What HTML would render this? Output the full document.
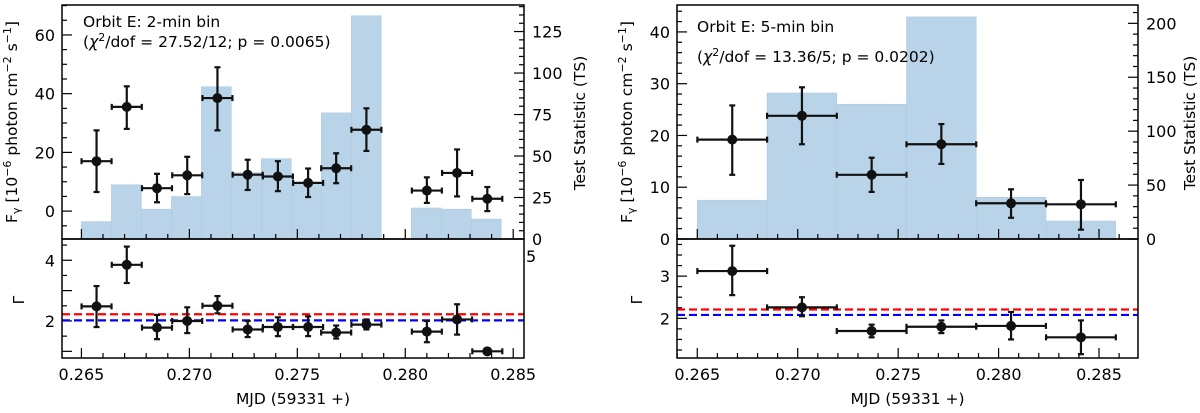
<!DOCTYPE html>
<html><head><meta charset="utf-8"><style>
html,body{margin:0;padding:0;background:#fff}
svg{display:block;font-family:"DejaVu Sans","Liberation Sans",sans-serif}
</style></head><body>
<svg id="c" width="1200" height="413" viewBox="0 0 1200 413"></svg>
<script>
// ---------- Left panel data (2-min bins) ----------
const L_binEdges0 = 0.2650, L_binW = 0.0013889;
const L_ts = [10.5, 32.7, 18, 25.6, 91.8, 40, 48.4, 34.5, 76, 134.5, 0, 18.7, 18, 12];
const L_x = [0.2657, 0.2671, 0.2685, 0.2699, 0.2713, 0.2727, 0.2741, 0.2755, 0.2768, 0.2782, 0.2810, 0.2824, 0.2838];
const L_flux = [17, 35.5, 7.8, 12.2, 38.5, 12.4, 11.8, 9.6, 14.6, 27.7, 7, 13, 4.2];
const L_fluxHi = [27.5, 42.5, 12.7, 18.5, 49, 17.5, 17, 14.5, 19.7, 35, 11.5, 21, 8.2];
const L_fluxLo = [6.5, 28, 3, 5.8, 27.5, 7.2, 6.8, 4.8, 9.5, 20.5, 2.8, 5, 0];
const L_gam = [2.48, 3.85, 1.78, 2.0, 2.5, 1.72, 1.8, 1.8, 1.62, 1.88, 1.65, 2.05, 1.0];
const L_gamHi = [3.15, 4.45, 2.2, 2.45, 2.82, 2.0, 2.12, 2.15, 1.85, 2.05, 2.0, 2.55, 1.05];
const L_gamLo = [1.8, 3.25, 1.4, 1.6, 2.25, 1.47, 1.5, 1.5, 1.42, 1.72, 1.3, 1.55, 0.95];
// ---------- Right panel data (5-min bins) ----------
const R_binEdges0 = 0.2650, R_binW = 0.0034722;
const R_ts = [36, 135.4, 125, 206, 38.7, 16.7];
const R_x = [0.26674, 0.27021, 0.27368, 0.27715, 0.28062, 0.28410];
const R_flux = [19.2, 23.8, 12.4, 18.3, 6.9, 6.7];
const R_fluxHi = [25.8, 29.3, 15.7, 22.2, 9.6, 11.4];
const R_fluxLo = [12.4, 18.3, 9.1, 14.5, 4.1, 1.8];
const R_gam = [3.12, 2.26, 1.7, 1.8, 1.82, 1.55];
const R_gamHi = [3.72, 2.5, 1.85, 1.95, 2.15, 1.95];
const R_gamLo = [2.55, 2.05, 1.55, 1.65, 1.5, 1.15];
const xTicks = [0.265, 0.270, 0.275, 0.280, 0.285];

const NS = "http://www.w3.org/2000/svg";
const svg = document.getElementById('c');
const TF = 16, LF = 15.5;
function mk(tag, attrs, parent, name, inter){
  const e = document.createElementNS(NS, tag);
  for (const k in attrs) e.setAttribute(k, attrs[k]);
  
  
  (parent || svg).appendChild(e);
  return e;
}
function lin(d0,d1,r0,r1){return v=>r0+(v-d0)/(d1-d0)*(r1-r0);}

function panel(o){
  const g = mk('g',{},svg,o.name,false);
  const X = lin(o.xd[0],o.xd[1],o.x0,o.x1);
  const YF = lin(o.fd[0],o.fd[1],o.yB,o.yT);
  const YT = lin(o.td[0],o.td[1],o.yB,o.yT);
  const YG = lin(o.gd[0],o.gd[1],o.y2,o.yB);
  o.ts.forEach((t,i)=>{
    if(t<=0) return;
    const a = X(o.e0+i*o.bw), b = X(o.e0+(i+1)*o.bw);
    mk('rect',{x:a,y:YT(t),width:b-a,height:o.yB-YT(t),fill:'#b9d4e8',stroke:'#a9c8e0','stroke-width':0.5},g,'ts-bar',false);
  });
  const tk = mk('g',{stroke:'#000','stroke-width':1.2},g,'ticks',false);
  for(let v=o.xd[0]-o.xd[0]%0.001+0.001; v<o.xd[1]; v+=0.001){
    const vv=Math.round(v*1000)/1000, maj=Math.abs(vv*200-Math.round(vv*200))<1e-6, L=maj?10:5;
    [o.yB,o.y2].forEach(yb=>mk('line',{x1:X(vv),x2:X(vv),y1:yb,y2:yb-L},tk,'x-tick',false));
  }
  for(let v=Math.ceil(o.fd[0]/o.fm)*o.fm; v<=o.fd[1]; v+=o.fm){
    const maj=Math.abs(v%o.fM)<1e-6, L=maj?10:5;
    mk('line',{x1:o.x0,x2:o.x0+L,y1:YF(v),y2:YF(v)},tk,'flux-tick',false);
    if(maj) mk('text',{x:o.x0-7,y:YF(v)+6,'text-anchor':'end','font-size':TF,fill:'#000',stroke:'none'},g,'flux-tick-label',false).textContent=v;
  }
  for(let v=0; v<=o.td[1]; v+=o.tm){
    const maj=v%o.tM===0, L=maj?10:5;
    mk('line',{x1:o.x1,x2:o.x1-L,y1:YT(v),y2:YT(v)},tk,'ts-tick',false);
    if(maj) mk('text',{x:o.x1+8,y:YT(v)+6,'font-size':TF,fill:'#000'},g,'ts-tick-label',false).textContent=v;
  }
  for(let v=Math.ceil(o.gd[0]/o.gm)*o.gm; v<=o.gd[1]; v+=o.gm){
    const maj=Math.abs(v-Math.round(v))<1e-6, L=maj?10:5;
    mk('line',{x1:o.x0,x2:o.x0+L,y1:YG(v),y2:YG(v)},tk,'gamma-tick',false);
    if(maj && o.gl.includes(Math.round(v))) mk('text',{x:o.x0-7,y:YG(v)+6,'text-anchor':'end','font-size':TF,fill:'#000'},g,'gamma-tick-label',false).textContent=Math.round(v);
  }
  xTicks.forEach(v=>mk('text',{x:X(v),y:380,'text-anchor':'middle','font-size':TF,fill:'#000'},g,'x-tick-label',false).textContent=v.toFixed(3));
  mk('line',{x1:o.x0,x2:o.x1,y1:YG(o.red),y2:YG(o.red),stroke:'#f00','stroke-width':2.2,'stroke-dasharray':'8,4'},g,'red-dashed-line',false);
  mk('line',{x1:o.x0,x2:o.x1,y1:YG(o.blue),y2:YG(o.blue),stroke:'#00f','stroke-width':2.2,'stroke-dasharray':'8,4'},g,'blue-dashed-line',false);
  const hw=o.bw/2;
  function pts(xs,ys,hi,lo,Y,nm){
    xs.forEach((x,i)=>{
      const pg=mk('g',{stroke:'#111','stroke-width':2.2},g,nm,false);
      const a=X(x-hw),b=X(x+hw),cx=X(x);
      mk('line',{x1:a,x2:b,y1:Y(ys[i]),y2:Y(ys[i])},pg,'x-error',false);
      mk('line',{x1:a,x2:a,y1:Y(ys[i])-3,y2:Y(ys[i])+3},pg,'cap',false);
      mk('line',{x1:b,x2:b,y1:Y(ys[i])-3,y2:Y(ys[i])+3},pg,'cap',false);
      mk('line',{x1:cx,x2:cx,y1:Y(hi[i]),y2:Y(lo[i])},pg,'y-error',false);
      mk('line',{x1:cx-3,x2:cx+3,y1:Y(hi[i]),y2:Y(hi[i])},pg,'cap',false);
      mk('line',{x1:cx-3,x2:cx+3,y1:Y(lo[i]),y2:Y(lo[i])},pg,'cap',false);
      mk('circle',{cx:cx,cy:Y(ys[i]),r:5,fill:'#111',stroke:'none'},pg,'marker',false);
    });
  }
  pts(o.px,o.flux,o.fhi,o.flo,YF,'flux-point');
  pts(o.px,o.gam,o.ghi,o.glo,YG,'gamma-point');
  mk('rect',{x:o.x0,y:o.yT,width:o.x1-o.x0,height:o.yB-o.yT,fill:'none',stroke:'#000','stroke-width':1.5},g,'top-frame',false);
  mk('rect',{x:o.x0,y:o.yB,width:o.x1-o.x0,height:o.y2-o.yB,fill:'none',stroke:'#000','stroke-width':1.5},g,'bottom-frame',false);
  const fl=mk('text',{transform:`translate(${o.lx},122) rotate(-90)`,'text-anchor':'middle','font-size':LF,fill:'#000'},g,'flux-axis-title',false);
  fl.innerHTML='F<tspan font-size="11" dy="3">γ</tspan><tspan dy="-3"> [10</tspan><tspan font-size="11" dy="-6">−6</tspan><tspan dy="6"> photon cm</tspan><tspan font-size="11" dy="-6">−2</tspan><tspan dy="6"> s</tspan><tspan font-size="11" dy="-6">−1</tspan><tspan dy="6">]</tspan>';
  mk('text',{transform:`translate(${o.rx},123) rotate(-90)`,'text-anchor':'middle','font-size':LF,fill:'#000'},g,'ts-axis-title',false).textContent='Test Statistic (TS)';
  mk('text',{transform:`translate(${o.gx},300) rotate(-90)`,'text-anchor':'middle','font-size':LF,fill:'#000'},g,'gamma-axis-title',false).textContent='Γ';
  mk('text',{x:(o.x0+o.x1)/2,y:404,'text-anchor':'middle','font-size':LF,fill:'#000'},g,'x-axis-title',false).textContent='MJD (59331 +)';
  mk('text',{x:o.tx,y:o.t1,'font-size':LF,fill:'#000'},g,'annotation-title',false).textContent=o.title;
  const t2=mk('text',{x:o.tx,y:o.t2,'font-size':LF,fill:'#000'},g,'annotation-stats',false);
  t2.innerHTML='(<tspan font-style="italic">χ</tspan><tspan font-size="11" dy="-6">2</tspan><tspan dy="6">'+o.stats+'</tspan>';
  return g;
}
panel({name:'left-panel',x0:62,x1:524,yT:5,yB:239,y2:358,xd:[0.26410,0.28550],
  fd:[-9.5,70.2],fm:5,fM:20,td:[0,141],tm:5,tM:25,gd:[0.78,4.7],gm:0.5,gl:[2,4],
  e0:L_binEdges0,bw:L_binW,ts:L_ts,px:L_x,flux:L_flux,fhi:L_fluxHi,flo:L_fluxLo,gam:L_gam,ghi:L_gamHi,glo:L_gamLo,
  red:2.22,blue:2.02,lx:17,rx:585,gx:24,tx:83,t1:27,t2:47,title:'Orbit E: 2-min bin',stats:'/dof = 27.52/12; p = 0.0065)'});
panel({name:'right-panel',x0:677,x1:1138,yT:5,yB:239,y2:358,xd:[0.26399,0.28694],
  fd:[0,45.2],fm:2,fM:10,td:[0,217],tm:10,tM:50,gd:[1.06,3.88],gm:0.25,gl:[2,3],
  e0:R_binEdges0,bw:R_binW,ts:R_ts,px:R_x,flux:R_flux,fhi:R_fluxHi,flo:R_fluxLo,gam:R_gam,ghi:R_gamHi,glo:R_gamLo,
  red:2.21,blue:2.08,lx:632,rx:1195,gx:642,tx:697,t1:32,t2:62,title:'Orbit E: 5-min bin',stats:'/dof = 13.36/5; p = 0.0202)'});
const s5=document.createElementNS(NS,'text');
s5.setAttribute('x',526);s5.setAttribute('y',262);s5.setAttribute('font-size',16);


s5.textContent='5';svg.appendChild(s5);
</script>
</body></html>
